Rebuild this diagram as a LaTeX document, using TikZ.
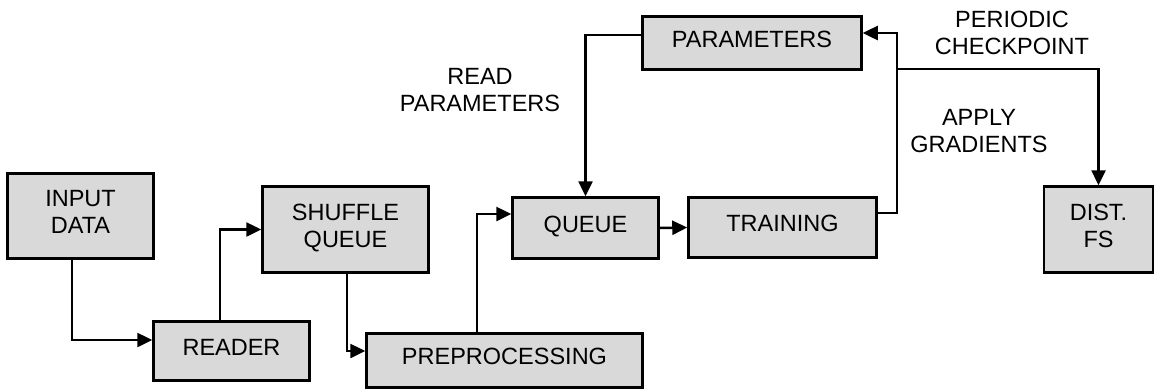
\documentclass[tikz,border=0pt]{standalone}
\usepackage{fontspec}
\setmainfont{Liberation Sans}
\usetikzlibrary{arrows.meta}
\definecolor{boxgray}{RGB}{217,217,217}

\begin{document}
\begin{tikzpicture}[x=1pt,y=1pt]
\tikzset{edge/.style = {-{Triangle[length=15pt,width=14pt]}, line width=2.5pt}}
\tikzset{block/.style = {shape=rectangle, draw, fill=boxgray, line width=2.5pt, align=center, inner sep=0pt, text depth=8pt, font=\fontsize{23.5}{27}\selectfont}}
\tikzset{note/.style = {align=center, inner sep=0pt, font=\fontsize{23.5}{27}\selectfont}}
\useasboundingbox (0,0) rectangle (1155,-389);
\node[block, minimum width=146pt, minimum height=85pt](input) at (80.5,-216) {INPUT\\DATA};
\node[block, minimum width=156pt, minimum height=59pt](reader) at (231.5,-351) {READER};
\node[block, minimum width=166pt, minimum height=86pt](shuffle) at (345.5,-229.5) {SHUFFLE\\QUEUE};
\node[block, minimum width=276pt, minimum height=54pt](prep) at (504.5,-360.5) {PREPROCESSING};
\node[block, minimum width=146pt, minimum height=61pt](queue) at (585.5,-228) {QUEUE};
\node[block, minimum width=188pt, minimum height=60pt](train) at (782.5,-227.5) {TRAINING};
\node[block, minimum width=219pt, minimum height=53pt](params) at (752,-43) {PARAMETERS};
\node[block, minimum width=109pt, minimum height=86pt](dfs) at (1098.5,-229.5) {DIST.\\FS};
\coordinate (split) at (897,-69);
\draw[edge] ([xshift=-8.5pt]input.south) |- ([yshift=11pt]reader.west);
\draw[edge] ([xshift=-11.5pt]reader.north) |- (shuffle.west);
\draw[edge] ([xshift=1.5pt]shuffle.south) |- ([yshift=9.5pt]prep.west);
\draw[edge] ([xshift=-27.5pt]prep.north) |- ([yshift=14pt]queue.west);
\draw[edge] (queue.east) -- (train.west);
\draw[edge] ([yshift=8pt]params.west) -| (queue.north);
\draw[edge] ([yshift=14.5pt]train.east) -| (split) |- ([yshift=10pt]params.east);
\draw[edge] (split) -| (dfs.north);
\node[note](readlbl) at (480,-90) {READ\\PARAMETERS};
\node[note](applylbl) at (979,-131.5) {APPLY\\GRADIENTS};
\node[note](ckptlbl) at (1012,-33) {PERIODIC\\CHECKPOINT};
\end{tikzpicture}
\end{document}
